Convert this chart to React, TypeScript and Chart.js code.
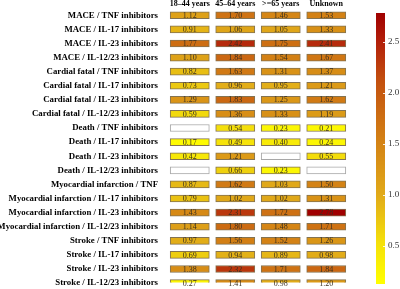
import React, { useEffect, useRef } from "react";
import { Chart, registerables } from "chart.js";

Chart.register(...registerables);

const ROWS = [
  "MACE / TNF inhibitors",
  "MACE / IL-17 inhibitors",
  "MACE / IL-23 inhibitors",
  "MACE / IL-12/23 inhibitors",
  "Cardial fatal / TNF inhibitors",
  "Cardial fatal / IL-17 inhibitors",
  "Cardial fatal / IL-23 inhibitors",
  "Cardial fatal / IL-12/23 inhibitors",
  "Death / TNF inhibitors",
  "Death / IL-17 inhibitors",
  "Death / IL-23 inhibitors",
  "Death / IL-12/23 inhibitors",
  "Myocardial infarction / TNF",
  "Myocardial infarction / IL-17 inhibitors",
  "Myocardial infarction / IL-23 inhibitors",
  "Myocardial infarction / IL-12/23 inhibitors",
  "Stroke / TNF inhibitors",
  "Stroke / IL-17 inhibitors",
  "Stroke / IL-23 inhibitors",
  "Stroke / IL-12/23 inhibitors",
];

const COLUMNS = ["18\u201344 years", "45\u201364 years", ">=65 years", "Unknown"];

const AGE_18_44 = [1.12, 0.91, 1.77, 1.1, 0.82, 0.73, 1.29, 0.59, null, 0.17, 0.42, null, 0.87, 0.79, 1.43, 1.14, 0.97, 0.69, 1.38, 0.27];
const AGE_45_64 = [1.7, 1.06, 2.42, 1.84, 1.63, 0.96, 1.83, 1.36, 0.54, 0.49, 1.21, 0.66, 1.62, 1.02, 2.31, 1.8, 1.56, 0.94, 2.32, 1.41];
const AGE_65_PLUS = [1.46, 1.05, 1.75, 1.54, 1.31, 0.95, 1.25, 1.33, 0.23, 0.4, null, 0.23, 1.03, 1.02, 1.72, 1.48, 1.52, 0.89, 1.71, 0.98];
const AGE_UNKNOWN = [1.53, 1.33, 2.41, 1.67, 1.37, 1.21, 1.62, 1.19, 0.21, 0.24, 0.55, null, 1.5, 1.31, 2.78, 1.71, 1.26, 0.98, 1.84, 1.2];

const SERIES = [AGE_18_44, AGE_45_64, AGE_65_PLUS, AGE_UNKNOWN];

const COLORBAR_TICKS = [0.5, 1.0, 1.5, 2.0, 2.5];
const COLOR_MIN = 0.12;
const COLOR_MAX = 2.78;

const STOPS: [number, number[]][] = [
  [0.0, [255, 255, 0]],
  [0.15, [245, 225, 10]],
  [0.33, [225, 170, 25]],
  [0.55, [210, 125, 20]],
  [0.75, [195, 80, 15]],
  [0.9, [178, 30, 10]],
  [1.0, [160, 0, 0]],
];

function colorFor(v: number | null): string {
  if (v === null) return "#ffffff";
  let t = (v - COLOR_MIN) / (COLOR_MAX - COLOR_MIN);
  t = Math.max(0, Math.min(1, t));
  for (let i = 1; i < STOPS.length; i++) {
    const [t1, c1] = STOPS[i];
    const [t0, c0] = STOPS[i - 1];
    if (t <= t1) {
      const f = (t - t0) / (t1 - t0);
      const c = c0.map((a, k) => Math.round(a + (c1[k] - a) * f));
      return `rgb(${c[0]},${c[1]},${c[2]})`;
    }
  }
  return "rgb(160,0,0)";
}

const cellLabels = {
  id: "cellLabels",
  afterDatasetsDraw(chart: any) {
    const ctx = chart.ctx;
    ctx.save();
    ctx.font = '8px "Liberation Serif"';
    ctx.fillStyle = "#3a3020";
    ctx.textAlign = "center";
    ctx.textBaseline = "middle";
    chart.data.datasets.forEach((ds: any, di: number) => {
      const meta = chart.getDatasetMeta(di);
      meta.data.forEach((el: any, i: number) => {
        const v = SERIES[di][i];
        if (v === null) return;
        ctx.fillText(v.toFixed(2), (el.x + el.base) / 2, el.y + 0.5);
      });
    });
    ctx.restore();
  },
};

const colorBar = {
  id: "colorBar",
  afterDraw(chart: any) {
    const s = chart.scales.y2;
    const ctx = chart.ctx;
    const w = 9;
    const x0 = Math.round(s.left) - w;
    const top = Math.round(s.getPixelForValue(COLOR_MAX));
    const bot = Math.round(s.getPixelForValue(COLOR_MIN));
    ctx.save();
    for (let py = top; py < bot; py++) {
      const v = s.getValueForPixel(py + 0.5);
      ctx.fillStyle = colorFor(v);
      ctx.fillRect(x0, py, w, 1);
    }
    ctx.strokeStyle = "rgba(255,255,255,0.85)";
    ctx.lineWidth = 1;
    COLORBAR_TICKS.forEach((t) => {
      const py = Math.round(s.getPixelForValue(t)) + 0.5;
      ctx.beginPath();
      ctx.moveTo(x0 + w - 2, py);
      ctx.lineTo(x0 + w + 2, py);
      ctx.stroke();
    });
    ctx.restore();
  },
};

export default function App() {
  const ref = useRef<HTMLCanvasElement | null>(null);

  useEffect(() => {
    document.body.style.margin = "0";
    const datasets = SERIES.map((vals, c) => ({
      label: COLUMNS[c],
      data: ROWS.map((_, r) => ({ y: r, x: [c + 0.07, c + 0.93] })),
      backgroundColor: vals.map((v) => colorFor(v)),
      borderColor: vals.map((v) => (v === null ? "#a8a8a8" : "rgba(110,90,50,0.85)")),
      borderWidth: 1,
      borderSkipped: false,
      barThickness: 7,
      grouped: false,
    }));

    const chart = new Chart(ref.current as HTMLCanvasElement, {
      type: "bar",
      data: { datasets } as any,
      options: {
        indexAxis: "y",
        animation: false,
        responsive: false,
        devicePixelRatio: 1,
        layout: { padding: 0 },
        plugins: { legend: { display: false }, tooltip: { enabled: false } },
        scales: {
          x: {
            type: "linear",
            position: "top",
            offset: false,
            min: -0.198,
            max: 4.791,
            grid: { display: false, drawTicks: false, offset: false },
            border: { display: false },
            afterBuildTicks: (s: any) => {
              s.ticks = [0.5, 1.5, 2.5, 3.5].map((v) => ({ value: v }));
            },
            afterFit: (s: any) => {
              s.height = 8;
            },
            ticks: {
              padding: 0,
              maxRotation: 0,
              autoSkip: false,
              color: "#000",
              font: { family: '"Liberation Serif"', size: 8, weight: "bold", lineHeight: 1 },
              callback: (v: any) => COLUMNS[Math.floor(Number(v))],
            },
          },
          y: {
            type: "linear",
            reverse: true,
            offset: false,
            min: -0.516,
            max: 18.95,
            grid: { display: false, drawTicks: false, offset: false },
            border: { display: false },
            afterBuildTicks: (s: any) => {
              s.ticks = ROWS.map((_, i) => ({ value: i }));
            },
            afterFit: (s: any) => {
              s.width = 158;
            },
            ticks: {
              padding: 0,
              autoSkip: false,
              color: "#000",
              font: { family: '"Liberation Serif"', size: 8.8, weight: "bold", lineHeight: 0.8 },
              callback: (v: any) => ROWS[Number(v)],
            },
          },
          y2: {
            type: "linear",
            position: "right",
            offset: false,
            min: 0.139,
            max: 2.83,
            grid: { display: false, drawTicks: false, offset: false },
            border: { display: false },
            afterBuildTicks: (s: any) => {
              s.ticks = COLORBAR_TICKS.map((v) => ({ value: v }));
            },
            afterFit: (s: any) => {
              s.width = 15;
            },
            ticks: {
              padding: 3,
              autoSkip: false,
              color: "#333",
              font: { family: '"Liberation Serif"', size: 9, lineHeight: 0.8 },
              callback: (v: any) => Number(v).toFixed(1),
            },
          },
        },
      } as any,
      plugins: [cellLabels, colorBar],
    });
    return () => chart.destroy();
  }, []);

  return (
    <div style={{ position: "fixed", left: 0, top: 0, width: 400, height: 289, background: "#fff" }}>
      <canvas ref={ref} width={400} height={289} />
    </div>
  );
}
